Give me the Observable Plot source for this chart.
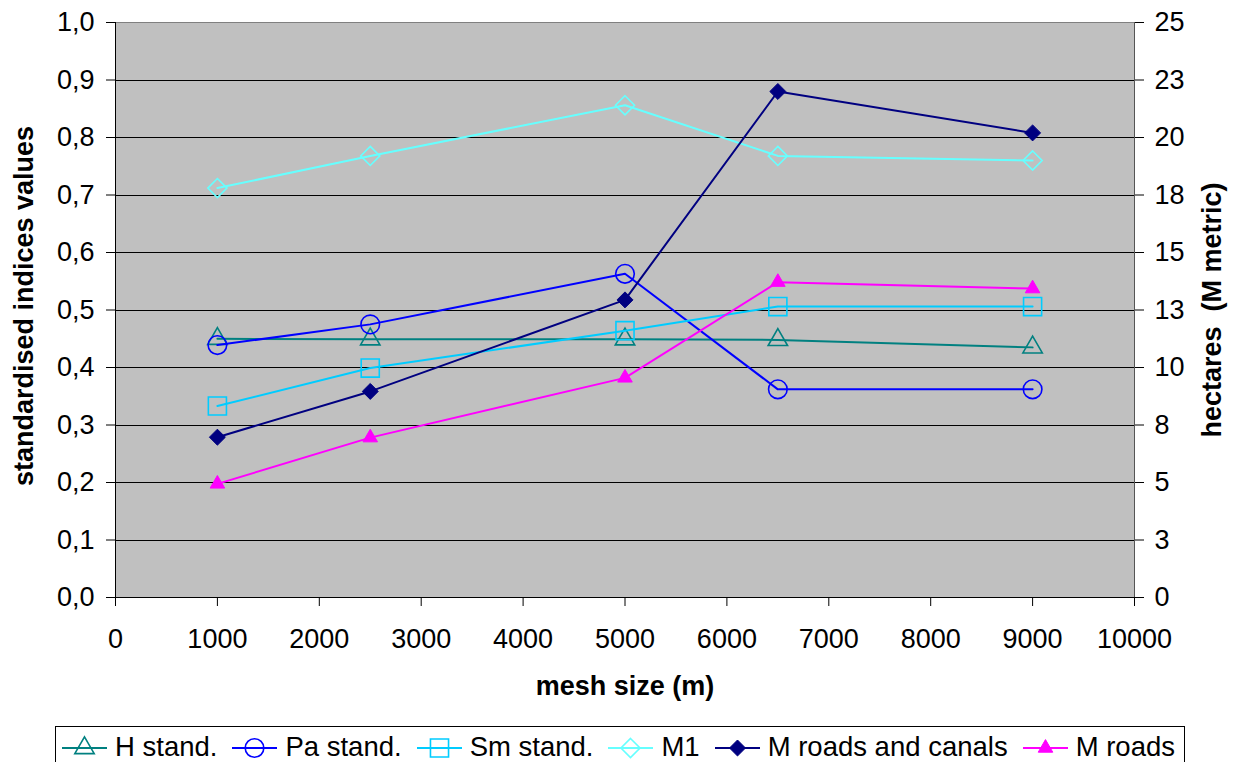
<!DOCTYPE html>
<html><head><meta charset="utf-8">
<script src="https://cdn.jsdelivr.net/npm/d3@7"></script>
<script src="https://cdn.jsdelivr.net/npm/@observablehq/plot@0.6"></script>
<style>
html,body{margin:0;padding:0;background:#fff;overflow:hidden;}
#wrap{position:relative;width:1238px;height:762px;font-family:"Liberation Sans",Arial,sans-serif;}
#legend{position:absolute;left:55px;top:726px;width:1130px;height:46px;box-sizing:border-box;border:1px solid #000;display:flex;align-items:flex-start;padding-left:6px;padding-top:5px;gap:15px;font-size:27.5px;line-height:30px;color:#000;white-space:nowrap;}
#legend .item{display:flex;align-items:center;}
#legend svg{display:block;margin-right:8px;}
</style>
</head><body>
<div id="wrap"><div id="chart"></div><div id="legend"></div></div>
<script>
// ---- data ----
const meshSizes = [1000, 2500, 5000, 6500, 9000];
const hStand = [0.450, 0.449, 0.449, 0.448, 0.435];
const paStand = [0.439, 0.475, 0.563, 0.362, 0.362];
const smStand = [0.333, 0.399, 0.464, 0.506, 0.506];
// hectares (M metric), right axis
const m1 = [17.8, 19.2, 21.4, 19.2, 19.0];
const mRoadsCanals = [6.97, 8.96, 12.94, 22.0, 20.2];
const mRoads = [4.94, 6.95, 9.55, 13.71, 13.43];

const seriesNames = ["H stand.", "Pa stand.", "Sm stand.", "M1", "M roads and canals", "M roads"];
const xTicks = [0, 1000, 2000, 3000, 4000, 5000, 6000, 7000, 8000, 9000, 10000];
const leftTicks = [0, 0.1, 0.2, 0.3, 0.4, 0.5, 0.6, 0.7, 0.8, 0.9, 1.0];
const leftTickLabels = ["0,0","0,1","0,2","0,3","0,4","0,5","0,6","0,7","0,8","0,9","1,0"];
const rightTickLabels = ["0","3","5","8","10","13","15","18","20","23","25"];
const rightMax = 25;
const xLabel = "mesh size (m)";
const leftLabel = "standardised indices values";
const rightLabel = "hectares  (M metric)";

// ---- styles ----
const styles = [
  {color:"#008080", symbol:"triangle", r:7.2, fill:"none", sw:1.6},
  {color:"#0000FF", symbol:"circle", r:9.3, fill:"none", sw:1.6},
  {color:"#00CCFF", symbol:"square", r:10.2, fill:"none", sw:1.6},
  {color:"#66FFFF", symbol:"diamond2", r:8.6, fill:"none", sw:1.6},
  {color:"#000080", symbol:"diamond2", r:7.2, fill:"#000080", sw:1},
  {color:"#FF00FF", symbol:"triangle", r:5.4, fill:"#FF00FF", sw:1}
];

const seriesValues = [hStand, paStand, smStand, m1, mRoadsCanals, mRoads];
const onRight = [false, false, false, true, true, true];
const tables = seriesValues.map((vals, s) => meshSizes.map((x, i) => ({
  x, y: onRight[s] ? vals[i] / rightMax : vals[i], series: seriesNames[s]
})));

const crisp = {shapeRendering: "crispEdges"};
const marks = [
  Plot.frame({fill:"#C0C0C0", stroke:"#808080", ...crisp}),
  Plot.ruleY(leftTicks.slice(1, -1), {stroke:"#000", strokeWidth:1, ...crisp}),
  Plot.ruleX([0], {stroke:"#000", ...crisp}),
  Plot.ruleX([10000], {stroke:"#555", ...crisp}),
  Plot.ruleY([0], {stroke:"#000", ...crisp}),
  Plot.axisX({ticks: xTicks, tickFormat: d => String(d), tickSize: 9, tickPadding: 22, label: null}),
  Plot.axisY({anchor:"left", ticks: leftTicks, tickFormat: d => leftTickLabels[Math.round(d*10)], tickSize: 9, tickPadding: 12, label: null}),
  Plot.axisY({anchor:"right", ticks: leftTicks, tickFormat: d => rightTickLabels[Math.round(d*10)], tickSize: 9, tickPadding: 11, label: null}),
  Plot.text([xLabel], {frameAnchor:"bottom", dy: 89, lineAnchor:"middle", textAnchor:"middle", fontWeight:"bold", fontSize: 27}),
  Plot.text([leftLabel], {frameAnchor:"left", dx: -91, dy: -4, rotate: -90, lineAnchor:"middle", textAnchor:"middle", fontWeight:"bold", fontSize: 27}),
  Plot.text([rightLabel], {frameAnchor:"right", dx: 78, rotate: -90, lineAnchor:"middle", textAnchor:"middle", fontWeight:"bold", fontSize: 27})
];
tables.forEach((t, s) => {
  const st = styles[s];
  marks.push(Plot.line(t, {x:"x", y:"y", stroke: st.color, strokeWidth: 2}));
  marks.push(Plot.dot(t, {x:"x", y:"y", symbol: st.symbol, r: st.r, stroke: st.color, strokeWidth: st.sw, fill: st.fill}));
});

const chart = Plot.plot({
  width: 1238, height: 722,
  marginLeft: 115, marginRight: 104, marginTop: 22, marginBottom: 125,
  style: {fontFamily: '"Liberation Sans", Arial, sans-serif', fontSize: "27px", color: "#000", background: "#fff"},
  x: {domain: [0, 10000], axis: null},
  y: {domain: [0, 1], axis: null},
  marks
});
document.getElementById("chart").appendChild(chart);

// ---- legend ----
const symMap = {triangle: d3.symbolTriangle, circle: d3.symbolCircle, square: d3.symbolSquare, diamond2: d3.symbolDiamond2};
const legend = document.getElementById("legend");
seriesNames.forEach((name, s) => {
  const st = styles[s];
  const item = document.createElement("div");
  item.className = "item";
  const size = Math.PI * st.r * st.r;
  const path = d3.symbol(symMap[st.symbol], size)();
  item.innerHTML = `<svg width="45" height="30" viewBox="0 0 45 30"><line x1="0" x2="45" y1="16" y2="16" stroke="${st.color}" stroke-width="2"/><path transform="translate(22.5,16)" d="${path}" fill="${st.fill}" stroke="${st.color}" stroke-width="${st.sw}"/></svg><span>${name}</span>`;
  legend.appendChild(item);
});
</script>
</body></html>
